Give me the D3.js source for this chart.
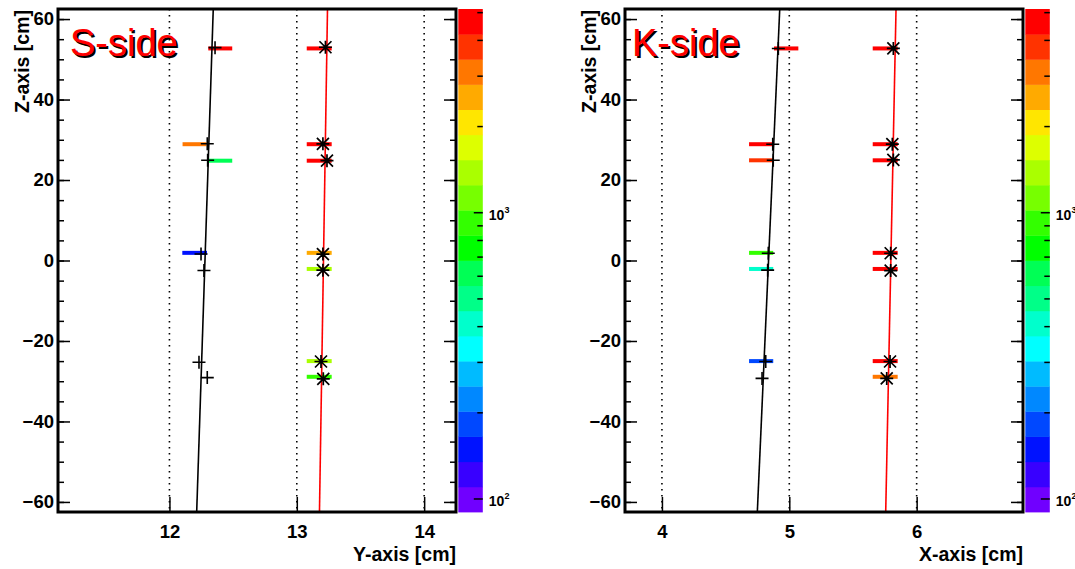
<!DOCTYPE html>
<html>
<head>
<meta charset="utf-8">
<script src="https://cdn.jsdelivr.net/npm/d3@7"></script>
<style>
  html, body { margin: 0; padding: 0; background: #fff; }
  svg { display: block; }
  text { font-family: "Liberation Sans", Arial, Helvetica, sans-serif; }
</style>
</head>
<body>
<svg id="chart" width="1075" height="569"></svg>
<script>
// ---- axis ranges and ticks ----
const zRange = [-62.5, 62.5];
const sRange = [11.125, 14.25];
const kRange = [3.71, 6.835];
const zTicks = [-60, -40, -20, 0, 20, 40, 60];
const zMinorTicks = d3.range(-60, 61, 5);
const sTicks = [12, 13, 14];
const kTicks = [4, 5, 6];

// ---- colour axis (log) ----
const colorRange = [89.7, 5129];
const colorMajorTicks = [100, 1000];
const colorMinorTicks = [200, 300, 400, 500, 600, 700, 800, 900, 2000, 3000, 4000, 5000];
const palette = [
  "#7000ff", "#3800ff", "#0012ff", "#0048ff", "#0088ff",
  "#00bbff", "#00ffff", "#00ffcc", "#00ff88", "#00ff55",
  "#00ff00", "#33ff00", "#77ff00", "#aaff00", "#ddff00",
  "#ffe600", "#ffaa00", "#ff7700", "#ff3300", "#ff0000"
];

// ---- S-side: fitted tracks [position, z] ----
const sFitBlack = [[12.214, -62.5], [12.344, 62.5]];
const sFitRed = [[13.178, -62.5], [13.241, 62.5]];
// hit positions [position, z]
const sHitsBlack = [
  [12.358, 52.9], [12.297, 29.0], [12.300, 24.9], [12.248, 1.6],
  [12.271, -2.5], [12.232, -25.3], [12.297, -29.1]
];
const sHitsRed = [
  [13.225, 53.0], [13.205, 29.0], [13.237, 24.8], [13.205, 1.6],
  [13.205, -2.4], [13.190, -25.1], [13.208, -29.4]
];
// drift segments [z, from, to, charge]
const sSegments = [
  [52.7, 12.305, 12.493, 4800], [28.9, 12.103, 12.291, 3090],
  [24.8, 12.305, 12.493, 612], [1.9, 12.101, 12.295, 149],
  [52.7, 13.078, 13.274, 4800], [28.9, 13.078, 13.274, 4800],
  [24.8, 13.078, 13.274, 4800], [1.9, 13.078, 13.274, 2524],
  [-2.1, 13.078, 13.274, 1376], [-25.0, 13.078, 13.274, 1376],
  [-28.9, 13.078, 13.274, 918]
];

// ---- K-side ----
const kFitBlack = [[4.749, -62.5], [4.925, 62.5]];
const kFitRed = [[5.757, -62.5], [5.838, 62.5]];
const kHitsBlack = [
  [4.914, 52.7], [4.870, 28.9], [4.874, 24.9], [4.835, 1.8],
  [4.830, -2.4], [4.815, -25.1], [4.786, -29.3]
];
const kHitsRed = [
  [5.817, 52.7], [5.809, 28.9], [5.817, 25.0], [5.796, 1.8],
  [5.796, -2.5], [5.791, -25.1], [5.765, -29.3]
];
const kSegments = [
  [52.7, 4.880, 5.071, 4800], [28.9, 4.684, 4.874, 4800],
  [24.9, 4.684, 4.874, 3785], [1.9, 4.684, 4.874, 918],
  [-2.1, 4.684, 4.874, 408], [-25.0, 4.684, 4.874, 182],
  [52.7, 5.655, 5.851, 4800], [28.9, 5.655, 5.851, 4800],
  [24.9, 5.655, 5.851, 4800], [1.9, 5.655, 5.851, 4800],
  [-2.1, 5.655, 5.851, 4800], [-25.0, 5.655, 5.851, 4800],
  [-28.9, 5.655, 5.851, 3090]
];

const svg = d3.select("#chart");
const plotTop = 9, plotBottom = 512, frameW = 398, barW = 24.5;

const logMin = Math.log10(colorRange[0]), logMax = Math.log10(colorRange[1]);
const colorOf = d3.scaleQuantize().domain([logMin, logMax]).range(palette);

function drawPanel(o) {
  const g = svg.append("g");
  const x = d3.scaleLinear().domain(o.range).range([o.left, o.left + frameW]);
  const z = d3.scaleLinear().domain(zRange).range([plotBottom, plotTop]);

  // dotted vertical grid
  g.selectAll("line.grid").data(o.ticks).join("line")
    .attr("x1", d => x(d)).attr("x2", d => x(d))
    .attr("y1", plotTop).attr("y2", plotBottom)
    .attr("stroke", "#000").attr("stroke-width", 1.6)
    .attr("stroke-dasharray", "1.6,4.4");

  // drift segments coloured by charge
  g.selectAll("line.seg").data(o.segments).join("line")
    .attr("x1", d => x(d[1])).attr("x2", d => x(d[2]))
    .attr("y1", d => z(d[0])).attr("y2", d => z(d[0]))
    .attr("stroke", d => colorOf(Math.log10(d[3])))
    .attr("stroke-width", 4);

  // fitted tracks
  const line = d3.line().x(d => x(d[0])).y(d => z(d[1]));
  g.append("path").attr("d", line(o.fitBlack))
    .attr("fill", "none").attr("stroke", "#000").attr("stroke-width", 1.6);
  g.append("path").attr("d", line(o.fitRed))
    .attr("fill", "none").attr("stroke", "#ff0000").attr("stroke-width", 1.6);

  // hit markers
  g.selectAll("path.plus").data(o.hitsBlack).join("path")
    .attr("transform", d => `translate(${x(d[0])},${z(d[1])})`)
    .attr("d", "M-6.5,0H6.5M0,-6.5V6.5")
    .attr("stroke", "#000").attr("stroke-width", 1.6).attr("fill", "none");
  g.selectAll("path.star").data(o.hitsRed).join("path")
    .attr("transform", d => `translate(${x(d[0])},${z(d[1])})`)
    .attr("d", "M-6.5,0H6.5M0,-6.5V6.5M-6,-6L6,6M-6,6L6,-6")
    .attr("stroke", "#000").attr("stroke-width", 1.7).attr("fill", "none");

  // axes
  const tickFont = s => s.selectAll("text")
    .attr("font-size", 18.5).attr("font-weight", "bold")
    .attr("font-family", "'Liberation Sans', Arial, sans-serif").attr("fill", "#000");
  const clean = s => { s.select(".domain").remove(); s.selectAll("line").attr("stroke-width", 1.5); };

  g.append("g").attr("transform", `translate(${o.left},0)`)
    .call(d3.axisLeft(z).tickValues(zTicks).tickSize(-12).tickPadding(4).tickFormat(d3.format("d")))
    .call(clean).call(tickFont);
  g.append("g").attr("transform", `translate(${o.left},0)`)
    .call(d3.axisLeft(z).tickValues(zMinorTicks).tickSize(-6).tickFormat(""))
    .call(clean);
  g.append("g").attr("transform", `translate(${o.left + frameW},0)`)
    .call(d3.axisRight(z).tickValues(zTicks).tickSize(-12).tickFormat(""))
    .call(clean);
  g.append("g").attr("transform", `translate(${o.left + frameW},0)`)
    .call(d3.axisRight(z).tickValues(zMinorTicks).tickSize(-6).tickFormat(""))
    .call(clean);
  g.append("g").attr("transform", `translate(0,${plotBottom})`)
    .call(d3.axisBottom(x).tickValues(o.ticks).tickSize(-15).tickPadding(13).tickFormat(d3.format("d")))
    .call(clean).call(tickFont);

  // frame
  g.append("rect").attr("x", o.left).attr("y", plotTop)
    .attr("width", frameW).attr("height", plotBottom - plotTop)
    .attr("fill", "none").attr("stroke", "#000").attr("stroke-width", 3);

  // axis titles
  g.append("text").attr("transform", `translate(${o.left - 29},${plotTop + 1}) rotate(-90)`)
    .attr("text-anchor", "end").attr("font-size", 19.5).attr("font-weight", "bold")
    .text("Z-axis [cm]");
  g.append("text").attr("x", o.left + frameW).attr("y", 561)
    .attr("text-anchor", "end").attr("font-size", 19.5).attr("font-weight", "bold")
    .text(o.xTitle);

  // side label with shadow
  g.append("text").attr("x", o.left + o.labelDx + 2).attr("y", 57.5)
    .attr("font-size", 38).attr("fill", "#000").text(o.label);
  g.append("text").attr("x", o.left + o.labelDx).attr("y", 55.5)
    .attr("font-size", 38).attr("fill", "#ff0000").text(o.label);

  // colour bar
  const cx = o.left + frameW + 2.3;
  const c = d3.scaleLog().domain(colorRange).range([plotBottom, plotTop]);
  const bands = d3.range(palette.length).map(i => [
    Math.pow(10, logMin + i * (logMax - logMin) / palette.length),
    Math.pow(10, logMin + (i + 1) * (logMax - logMin) / palette.length),
    palette[i]
  ]);
  g.selectAll("rect.band").data(bands).join("rect")
    .attr("x", cx).attr("width", barW)
    .attr("y", d => c(d[1])).attr("height", d => c(d[0]) - c(d[1]) + 0.4)
    .attr("fill", d => d[2]);
  g.append("g").attr("transform", `translate(${cx + barW},0)`)
    .call(d3.axisRight(c).tickValues(colorMinorTicks).tickSize(-5.5).tickFormat(""))
    .call(clean);
  g.append("g").attr("transform", `translate(${cx + barW},0)`)
    .call(d3.axisRight(c).tickValues(colorMajorTicks).tickSize(-9).tickFormat(""))
    .call(clean);
  const lab = g.selectAll("text.pow").data(colorMajorTicks).join("text")
    .attr("x", cx + barW + 6).attr("y", d => c(d) + 8)
    .attr("font-size", 14).attr("font-weight", "bold");
  lab.append("tspan").text("10");
  lab.append("tspan").attr("dy", -7).attr("font-size", 9)
    .text(d => Math.round(Math.log10(d)));
}

drawPanel({
  left: 58, range: sRange, ticks: sTicks, xTitle: "Y-axis [cm]",
  label: "S-side", labelDx: 12,
  fitBlack: sFitBlack, fitRed: sFitRed,
  hitsBlack: sHitsBlack, hitsRed: sHitsRed, segments: sSegments
});
drawPanel({
  left: 625, range: kRange, ticks: kTicks, xTitle: "X-axis [cm]",
  label: "K-side", labelDx: 7,
  fitBlack: kFitBlack, fitRed: kFitRed,
  hitsBlack: kHitsBlack, hitsRed: kHitsRed, segments: kSegments
});
</script>
</body>
</html>
